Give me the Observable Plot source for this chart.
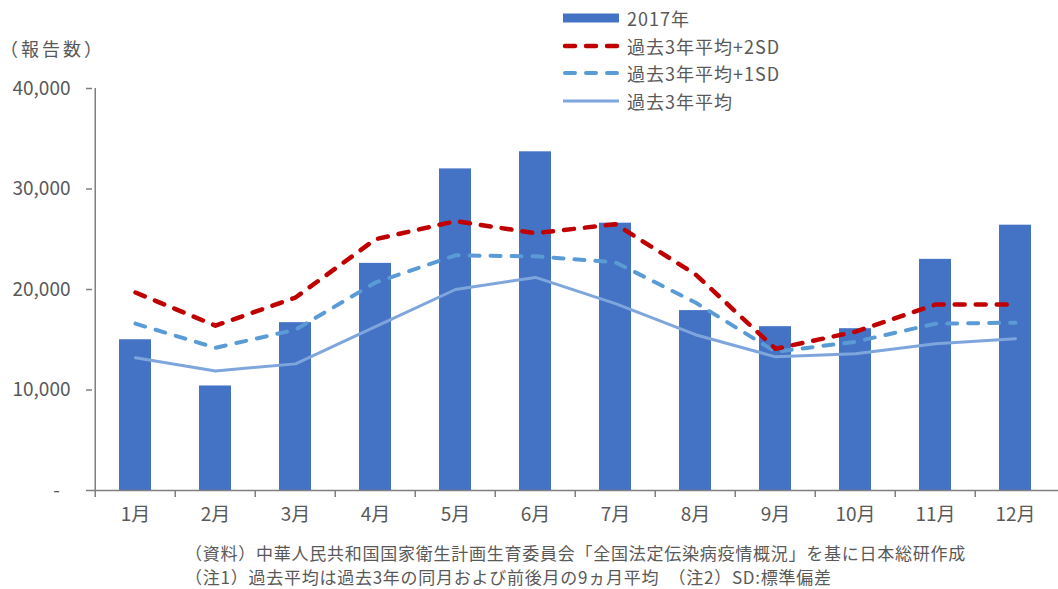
<!DOCTYPE html>
<html>
<head>
<meta charset="utf-8">
<script src="https://cdn.jsdelivr.net/npm/d3@7"></script>
<script src="https://cdn.jsdelivr.net/npm/@observablehq/plot@0.6"></script>
<style>
  html, body { margin: 0; padding: 0; background: #fff; }
  #wrap { position: relative; width: 1058px; height: 589px; overflow: hidden;
          font-family: "Noto Sans CJK JP", "Noto Sans", sans-serif; color: #595959; }
  #chart { position: absolute; left: 0; top: 0; }
  #ylabel { position: absolute; left: 0; top: 36px; font-size: 18px; line-height: 24px; letter-spacing: 3px; }
  #legend { position: absolute; left: 562px; top: 4px; font-size: 18px; }
  #legend .row { display: flex; align-items: center; height: 27.7px; }
  #legend svg { width: 58px; height: 12px; margin-right: 7px; flex: none; }
  #legend span { letter-spacing: 1px; }
  #notes { position: absolute; left: 185px; top: 541px; font-size: 17px; line-height: 24px; letter-spacing: 0.75px; white-space: pre; }
</style>
</head>
<body>
<div id="wrap">
  <div id="chart"></div>
  <div id="ylabel">（報告数）</div>
  <div id="legend"></div>
  <div id="notes"></div>
</div>
<script>
// Monthly reports, 2017, against the trailing three-year average and its ±SD bands
const months = ["1月", "2月", "3月", "4月", "5月", "6月", "7月", "8月", "9月", "10月", "11月", "12月"];
const reports2017 = [15000, 10400, 16700, 22600, 32000, 33700, 26600, 17900, 16300, 16100, 23000, 26400];
const avgPlus2SD  = [19700, 16400, 19200, 25000, 26800, 25600, 26500, 21500, 14100, 15800, 18500, 18500];
const avgPlus1SD  = [16600, 14200, 16000, 20700, 23400, 23300, 22700, 18700, 13800, 14800, 16600, 16700];
const avg3yr      = [13200, 11900, 12600, 16300, 20000, 21200, 18600, 15500, 13300, 13600, 14600, 15100];
const yTicks = [0, 10000, 20000, 30000, 40000];

const seriesNames = ["2017年", "過去3年平均+2SD", "過去3年平均+1SD", "過去3年平均"];
const notes = [
  "（資料）中華人民共和国国家衛生計画生育委員会「全国法定伝染病疫情概況」を基に日本総研作成",
  "（注1）過去平均は過去3年の同月および前後月の9ヵ月平均　（注2）SD:標準偏差"
];

const colors = { bar: "#4472C4", sd2: "#C00000", sd1: "#5B9BD5", avg: "#7EA6DC", axis: "#7F7F7F", text: "#595959" };

const rows = (vals) => months.map((m, i) => ({ month: m, value: vals[i] }));

const W = 1058, H = 589, ML = 92, MR = 0, MT = 88, MB = 99;
const step = (W - ML - MR) / months.length;
const fmt = d3.format(",");

const chart = Plot.plot({
  width: W,
  height: H,
  marginTop: MT,
  marginBottom: MB,
  marginLeft: ML,
  marginRight: MR,
  style: { fontFamily: "'Noto Sans CJK JP', 'Noto Sans', sans-serif", fontSize: "19px", color: colors.text, background: "transparent" },
  x: { type: "band", domain: months, padding: 0, label: null },
  y: { domain: [0, 40000], label: null },
  marks: [
    Plot.barY(rows(reports2017), { x: "month", y: "value", fill: colors.bar, insetLeft: 24, insetRight: 24 }),
    Plot.line(rows(avg3yr), { x: "month", y: "value", stroke: colors.avg, strokeWidth: 3, strokeLinejoin: "round" }),
    Plot.line(rows(avgPlus1SD), { x: "month", y: "value", stroke: colors.sd1, strokeWidth: 4, strokeDasharray: "10,11", strokeLinecap: "round", strokeLinejoin: "round" }),
    Plot.line(rows(avgPlus2SD), { x: "month", y: "value", stroke: colors.sd2, strokeWidth: 4.5, strokeDasharray: "10,11", strokeLinecap: "round", strokeLinejoin: "round" }),
    // axis lines
    Plot.ruleY([0], { stroke: colors.axis, strokeWidth: 1.5 }),
    Plot.ruleX(months.slice(0, 1), { x: d => d, dx: -step / 2, stroke: colors.axis, strokeWidth: 1.5 }),
    // y axis ticks and labels
    Plot.axisY({ ticks: yTicks, tickSize: 6, tickPadding: 16, stroke: colors.axis, strokeWidth: 1.5, fill: colors.text, label: null,
                 tickFormat: d => d === 0 ? "-\u2007" : fmt(d) }),
    // category boundary ticks on the x axis
    Plot.axisX({ tickSize: 7, dx: -step / 2, tickFormat: () => "", stroke: colors.axis, strokeWidth: 1.5, label: null }),
    // month labels
    Plot.axisX({ tickSize: 0, tickPadding: 17, fill: colors.text, label: null })
  ]
});
document.getElementById("chart").appendChild(chart);

// legend
const swatches = [
  `<rect x="1" y="1.5" width="56" height="9" fill="${colors.bar}"/>`,
  `<line x1="3" x2="57" y1="6" y2="6" stroke="${colors.sd2}" stroke-width="4.5" stroke-dasharray="10,11" stroke-linecap="round"/>`,
  `<line x1="3" x2="57" y1="6" y2="6" stroke="${colors.sd1}" stroke-width="4" stroke-dasharray="10,11" stroke-linecap="round"/>`,
  `<line x1="1" x2="57" y1="6" y2="6" stroke="${colors.avg}" stroke-width="3"/>`
];
document.getElementById("legend").innerHTML = seriesNames
  .map((name, i) => `<div class="row"><svg viewBox="0 0 58 12">${swatches[i]}</svg><span>${name}</span></div>`)
  .join("");

document.getElementById("notes").textContent = notes.join("\n");
</script>
</body>
</html>
